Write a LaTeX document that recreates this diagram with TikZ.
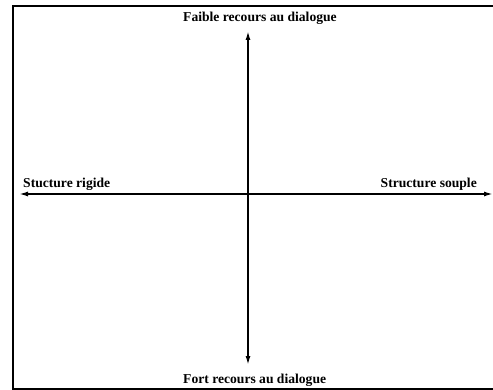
\documentclass[tikz,border=0pt]{standalone}
\usepackage{fontspec}
\setmainfont{Liberation Serif}
\usetikzlibrary{arrows.meta}
\begin{document}
\begin{tikzpicture}[x=1pt,y=-1pt,
        axis/.style={line width=1.6pt,{Latex[length=9pt,width=5pt]}-{Latex[length=9pt,width=5pt]}},
        lbl/.style={font=\fontsize{13.6}{15}\selectfont\bfseries,inner sep=0pt}]
        \useasboundingbox (0,0) rectangle (493,390);
        \draw [line width=1.8pt] (497,6) -- (13,6) -- (13,389) -- (497,389);
        \coordinate (top) at (248,31);
        \coordinate (bottom) at (248,365);
        \coordinate (left) at (19,194);
        \coordinate (right) at (493,194);
        \node [lbl,anchor=base west] (faible) at (183,21.5) {Faible recours au dialogue};
        \node [lbl,anchor=base west] (fort) at (183,383.5) {Fort recours au dialogue};
        \node [lbl,anchor=base west] (rigide) at (23,188) {Stucture rigide};
        \node [lbl,anchor=base east] (souple) at (477,188) {Structure souple};
        \draw [axis] (bottom) -- (top);
        \draw [axis] (left) -- (right);
    \end{tikzpicture}
\end{document}
